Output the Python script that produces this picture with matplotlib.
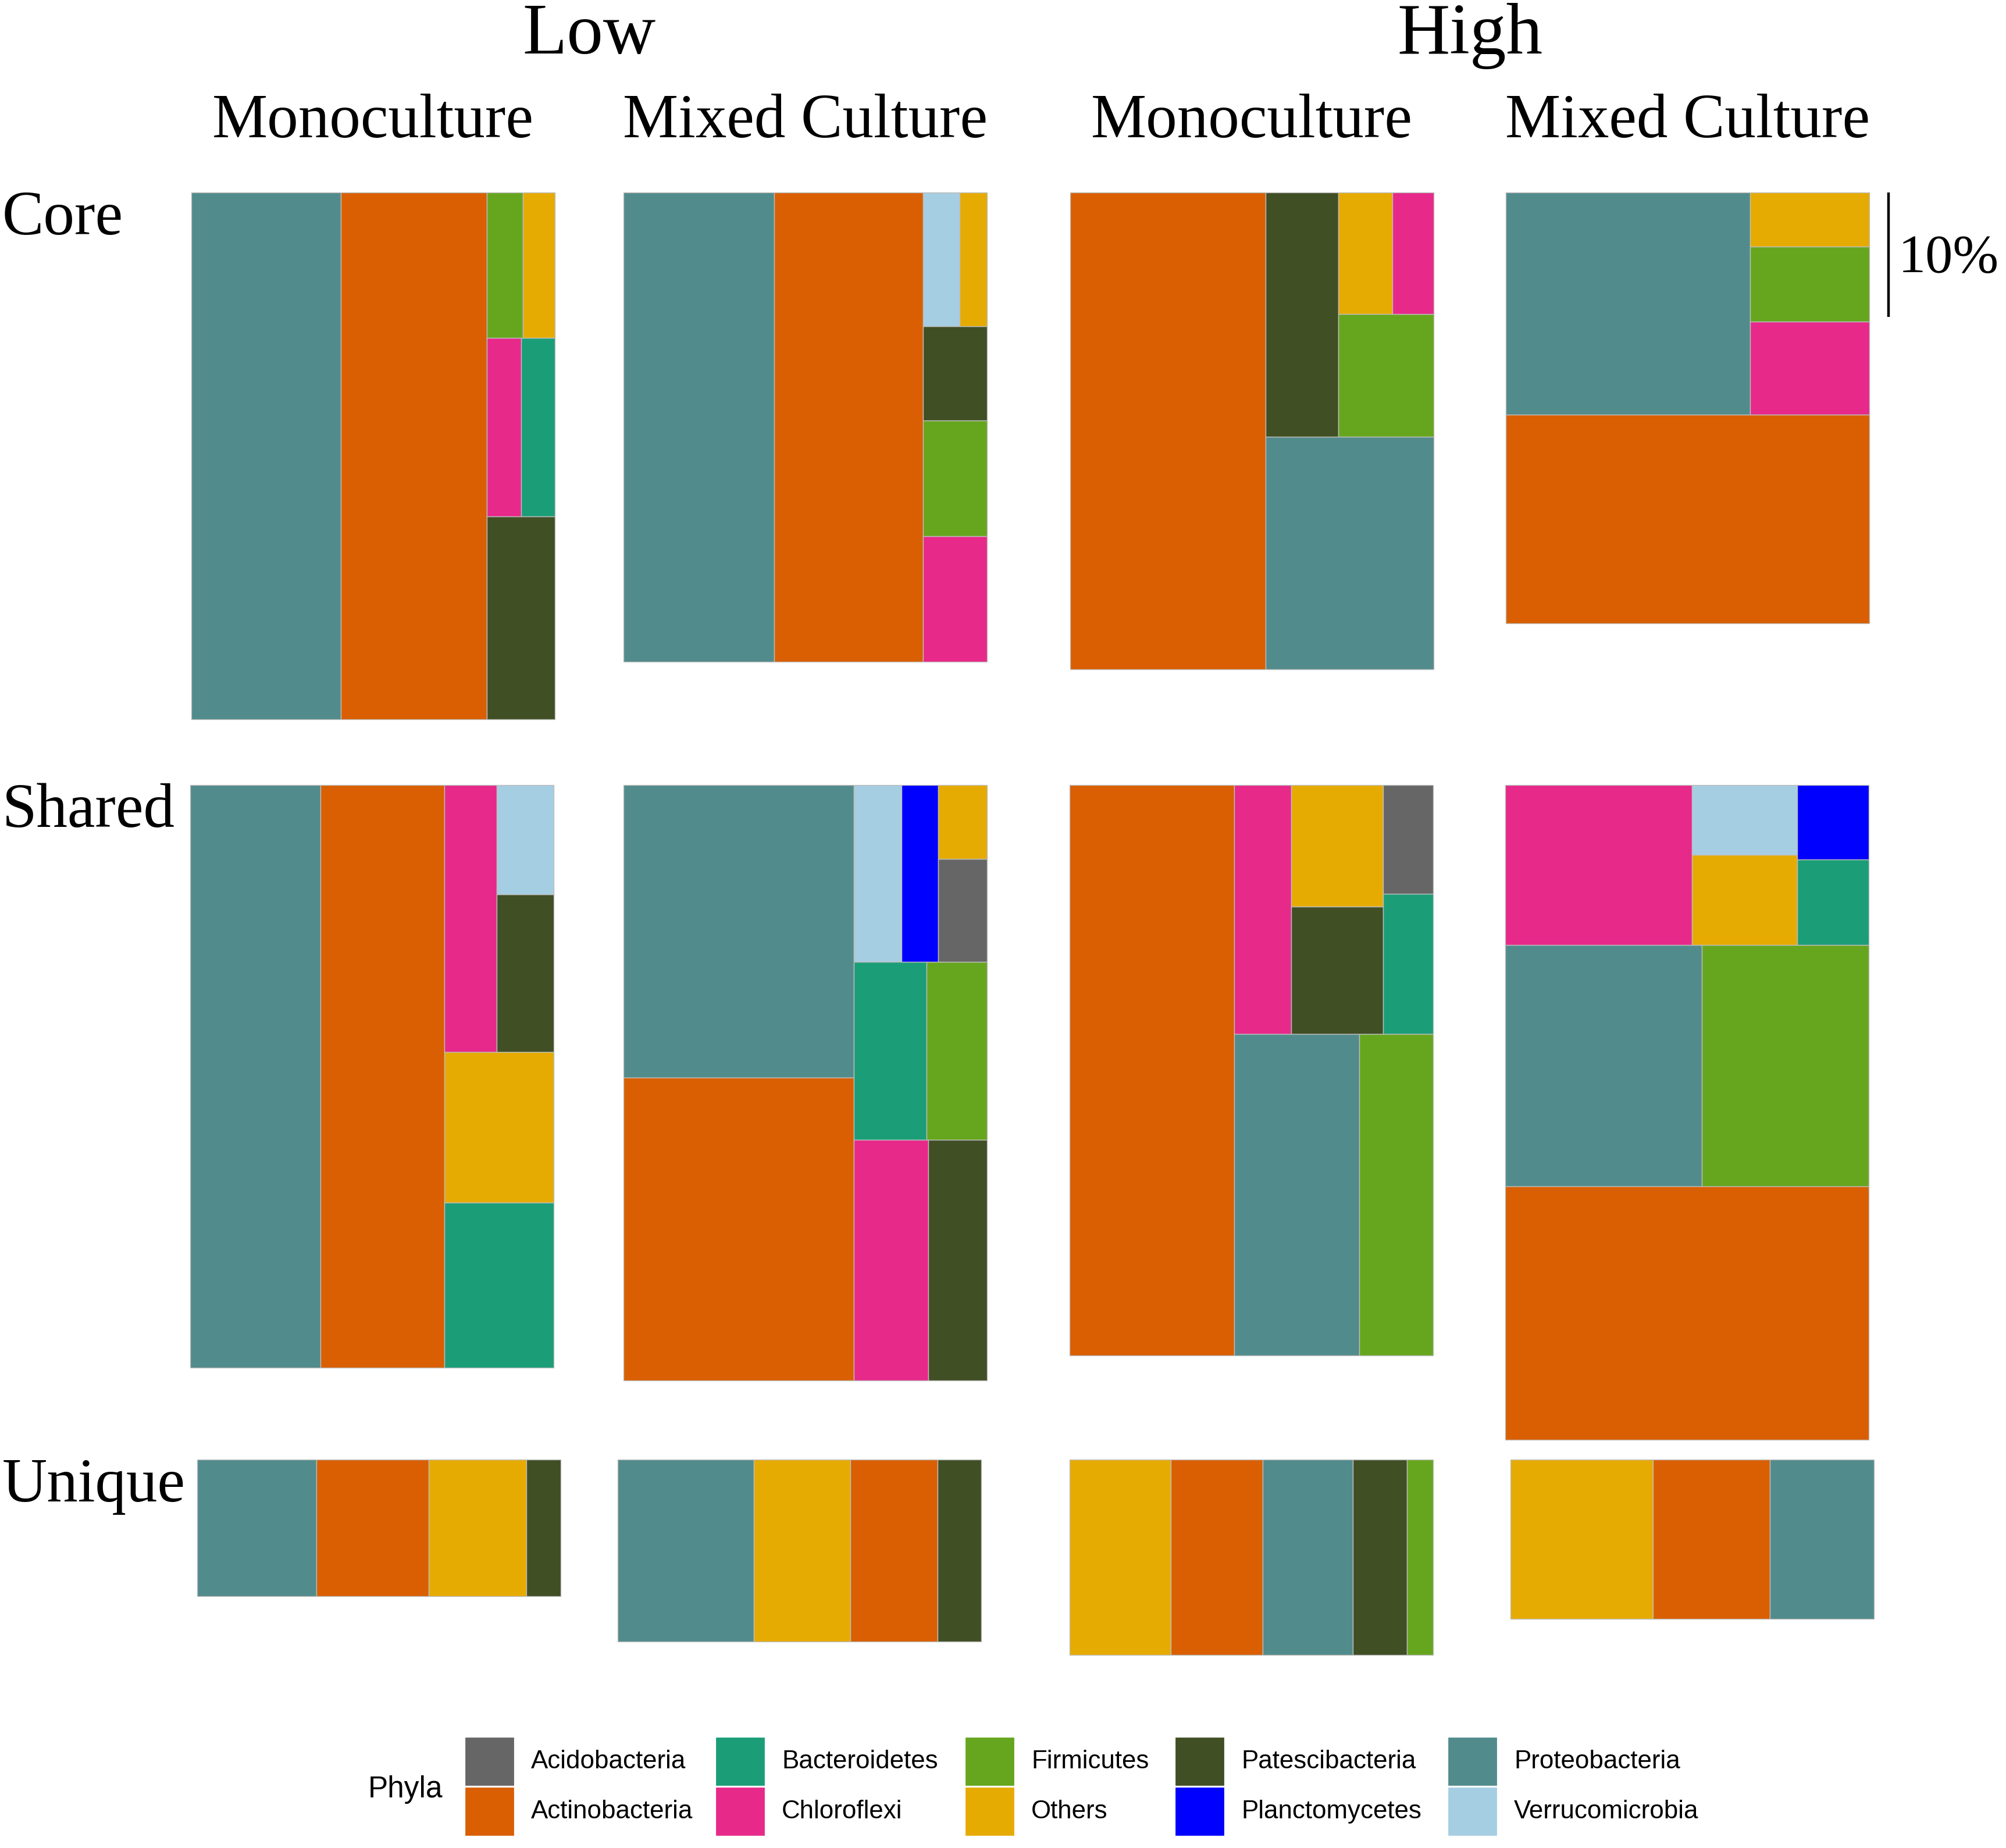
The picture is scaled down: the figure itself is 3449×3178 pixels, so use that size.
import matplotlib
matplotlib.use("Agg")
import matplotlib.pyplot as plt
from matplotlib.patches import Rectangle

# ----------------------------------------------------------------------------
# Data: relative abundance (% of reads) of each phylum in each OTU category
# ----------------------------------------------------------------------------
LOW_MONO_CORE_PHYLA = ["Proteobacteria", "Actinobacteria", "Patescibacteria", "Chloroflexi",
                       "Bacteroidetes", "Firmicutes", "Others"]
LOW_MONO_CORE_PCT = [17.41, 16.98, 3.05, 1.36, 1.32, 1.16, 1.03]

LOW_MIXED_CORE_PHYLA = ["Proteobacteria", "Actinobacteria", "Chloroflexi", "Firmicutes",
                        "Patescibacteria", "Verrucomicrobia", "Others"]
LOW_MIXED_CORE_PCT = [15.62, 15.46, 1.78, 1.63, 1.33, 1.09, 0.80]

HIGH_MONO_CORE_PHYLA = ["Actinobacteria", "Proteobacteria", "Patescibacteria", "Firmicutes",
                        "Others", "Chloroflexi"]
HIGH_MONO_CORE_PCT = [20.56, 8.66, 3.93, 2.59, 1.46, 1.10]

HIGH_MIXED_CORE_PHYLA = ["Actinobacteria", "Proteobacteria", "Chloroflexi", "Firmicutes", "Others"]
HIGH_MIXED_CORE_PCT = [16.78, 11.97, 2.44, 1.99, 1.42]

LOW_MONO_SHARED_PHYLA = ["Proteobacteria", "Actinobacteria", "Bacteroidetes", "Others",
                         "Chloroflexi", "Patescibacteria", "Verrucomicrobia"]
LOW_MONO_SHARED_PCT = [16.79, 15.95, 3.99, 3.63, 3.09, 1.98, 1.37]

LOW_MIXED_SHARED_PHYLA = ["Actinobacteria", "Proteobacteria", "Chloroflexi", "Patescibacteria",
                          "Bacteroidetes", "Firmicutes", "Verrucomicrobia", "Planctomycetes",
                          "Acidobacteria", "Others"]
LOW_MIXED_SHARED_PCT = [15.40, 14.86, 3.97, 3.12, 2.87, 2.38, 1.87, 1.43, 1.11, 0.80]

HIGH_MONO_SHARED_PHYLA = ["Actinobacteria", "Proteobacteria", "Firmicutes", "Chloroflexi",
                          "Patescibacteria", "Others", "Bacteroidetes", "Acidobacteria"]
HIGH_MONO_SHARED_PCT = [20.72, 8.91, 5.23, 3.15, 2.58, 2.46, 1.55, 1.20]

HIGH_MIXED_SHARED_PHYLA = ["Actinobacteria", "Proteobacteria", "Firmicutes", "Chloroflexi",
                           "Others", "Verrucomicrobia", "Bacteroidetes", "Planctomycetes"]
HIGH_MIXED_SHARED_PCT = [20.38, 10.49, 8.89, 6.58, 2.10, 1.63, 1.35, 1.17]

LOW_MONO_UNIQUE_PHYLA = ["Proteobacteria", "Actinobacteria", "Others", "Patescibacteria"]
LOW_MONO_UNIQUE_PCT = [3.61, 3.39, 2.95, 1.04]

LOW_MIXED_UNIQUE_PHYLA = ["Proteobacteria", "Others", "Actinobacteria", "Patescibacteria"]
LOW_MIXED_UNIQUE_PCT = [5.46, 3.89, 3.49, 1.76]

HIGH_MONO_UNIQUE_PHYLA = ["Others", "Actinobacteria", "Proteobacteria", "Patescibacteria", "Firmicutes"]
HIGH_MONO_UNIQUE_PCT = [4.38, 3.96, 3.89, 2.33, 1.14]

HIGH_MIXED_UNIQUE_PHYLA = ["Others", "Actinobacteria", "Proteobacteria"]
HIGH_MIXED_UNIQUE_PCT = [5.01, 4.13, 3.66]

LEVELS = ["Low", "High"]
CULTURES = ["Monoculture", "Mixed Culture", "Monoculture", "Mixed Culture"]
GROUPS = ["Core", "Shared", "Unique"]

PHYLA = ["Acidobacteria", "Actinobacteria", "Bacteroidetes", "Chloroflexi", "Firmicutes",
         "Others", "Patescibacteria", "Planctomycetes", "Proteobacteria", "Verrucomicrobia"]
PHYLA_COLORS = ["#666666", "#D95F02", "#1B9E77", "#E7298A", "#66A61E",
                "#E6AB02", "#404F24", "#0000FF", "#528B8B", "#A6CEE3"]

SCALE_BAR_PCT = 10

TREEMAPS = [
    [(LOW_MONO_CORE_PHYLA, LOW_MONO_CORE_PCT), (LOW_MIXED_CORE_PHYLA, LOW_MIXED_CORE_PCT),
     (HIGH_MONO_CORE_PHYLA, HIGH_MONO_CORE_PCT), (HIGH_MIXED_CORE_PHYLA, HIGH_MIXED_CORE_PCT)],
    [(LOW_MONO_SHARED_PHYLA, LOW_MONO_SHARED_PCT), (LOW_MIXED_SHARED_PHYLA, LOW_MIXED_SHARED_PCT),
     (HIGH_MONO_SHARED_PHYLA, HIGH_MONO_SHARED_PCT), (HIGH_MIXED_SHARED_PHYLA, HIGH_MIXED_SHARED_PCT)],
    [(LOW_MONO_UNIQUE_PHYLA, LOW_MONO_UNIQUE_PCT), (LOW_MIXED_UNIQUE_PHYLA, LOW_MIXED_UNIQUE_PCT),
     (HIGH_MONO_UNIQUE_PHYLA, HIGH_MONO_UNIQUE_PCT), (HIGH_MIXED_UNIQUE_PHYLA, HIGH_MIXED_UNIQUE_PCT)],
]

# ----------------------------------------------------------------------------
# Layout settings (figure pixels)
# ----------------------------------------------------------------------------
FIG_W, FIG_H, DPI = 3449, 3178, 200
PANEL_LEFT = [[329, 1072, 1840, 2589],
              [327, 1072, 1839, 2588],
              [339, 1062, 1839, 2597]]
ROW_TOP = [331, 1350, 2510]
TM_WIDTH = 625            # every treemap has the same width
PX_PER_PCT = 21.41        # height (px) per 1 % at TM_WIDTH -> area encodes abundance
# aspect of the coordinate space in which each squarified layout was computed
LAYOUT_ASPECT = [[3.0, 2.6, 2.1, 0.9],
                 [2.62, 2.46, 2.4, 1.0],
                 [3.0, 2.6, 2.6, 1.0]]
EDGE = "#BDBDBD"
SERIF = ["Liberation Serif", "DejaVu Serif"]
SANS = ["Liberation Sans", "DejaVu Sans"]

COLOR_OF = dict(zip(PHYLA, PHYLA_COLORS))


def squarify(values, x, y, w, h):
    """Squarified treemap (Bruls et al.), rows start at the bottom-left corner."""
    rects = []
    vals = list(values)
    while vals:
        if len(vals) == 1:
            rects.append((x, y, w, h))
            break
        wide = w >= h
        side = h if wide else w

        def worst(row):
            s = sum(row)
            thick = s / side
            r = 0
            for v in row:
                ln = v / thick
                r = max(r, thick / ln, ln / thick)
            return r

        i = 1
        while i < len(vals) and worst(vals[:i + 1]) <= worst(vals[:i]):
            i += 1
        row, vals = vals[:i], vals[i:]
        thick = sum(row) / side
        if wide:
            yy = y
            for v in row:
                ln = v / thick
                rects.append((x, yy, thick, ln))
                yy += ln
            x += thick
            w -= thick
        else:
            xx = x
            for v in row:
                ln = v / thick
                rects.append((xx, y, ln, thick))
                xx += ln
            y += thick
            h -= thick
    return rects


fig = plt.figure(figsize=(FIG_W / DPI, FIG_H / DPI), dpi=DPI)
ax = fig.add_axes([0, 0, 1, 1])
ax.set_xlim(0, FIG_W)
ax.set_ylim(FIG_H, 0)
ax.axis("off")

for r, row in enumerate(TREEMAPS):
    for cidx, (names, pct) in enumerate(row):
        total = sum(pct)
        H = total * PX_PER_PCT
        W = TM_WIDTH
        c = LAYOUT_ASPECT[r][cidx]
        left = PANEL_LEFT[r][cidx]
        top = ROW_TOP[r]
        order = sorted(range(len(pct)), key=lambda i: -pct[i])
        vals = [pct[i] * W * PX_PER_PCT / c for i in order]
        rects = squarify(vals, 0.0, 0.0, W, H / c)
        for i, (x, y, w, h) in zip(order, rects):
            ax.add_patch(Rectangle((left + x, top + H - (y + h) * c), w, h * c,
                                   facecolor=COLOR_OF[names[i]], edgecolor=EDGE,
                                   linewidth=0.5))

# column / level titles
col_centers = [PANEL_LEFT[0][k] + TM_WIDTH / 2 for k in range(4)]
for k, lvl in enumerate(LEVELS):
    cx = (col_centers[2 * k] + col_centers[2 * k + 1]) / 2
    ax.text(cx, 92, lvl, ha="center", va="baseline", fontsize=45, family=SERIF)
for k, cul in enumerate(CULTURES):
    ax.text(col_centers[k], 236, cul, ha="center", va="baseline", fontsize=38.5, family=SERIF)
for r, g in enumerate(GROUPS):
    ax.text(4, ROW_TOP[r] + 72, g, ha="left", va="baseline", fontsize=38.5, family=SERIF)

# scale bar: 10 %
bar_x = 3247
ax.plot([bar_x, bar_x], [ROW_TOP[0], ROW_TOP[0] + SCALE_BAR_PCT * PX_PER_PCT],
        color="black", linewidth=1.6, solid_capstyle="butt")
ax.text(3264, 468, f"{SCALE_BAR_PCT}%", ha="left", va="baseline", fontsize=34, family=SERIF)

# legend
KEY_X = [799, 1230, 1659, 2020, 2489]
KEY_Y = [2987, 3073]
KEY_W, KEY_H = 86, 85
ax.text(633, 3078, "Phyla", ha="left", va="center", fontsize=18.5, family=SANS)
for k, name in enumerate(PHYLA):
    kx = KEY_X[k // 2]
    ky = KEY_Y[k % 2]
    ax.add_patch(Rectangle((kx, ky), KEY_W, KEY_H, facecolor=COLOR_OF[name],
                           edgecolor="white", linewidth=0.8))
    ax.text(kx + 114, ky + KEY_H / 2, name, ha="left", va="center", fontsize=15.8, family=SANS)

fig.savefig("out.png", dpi=DPI, facecolor="white")
